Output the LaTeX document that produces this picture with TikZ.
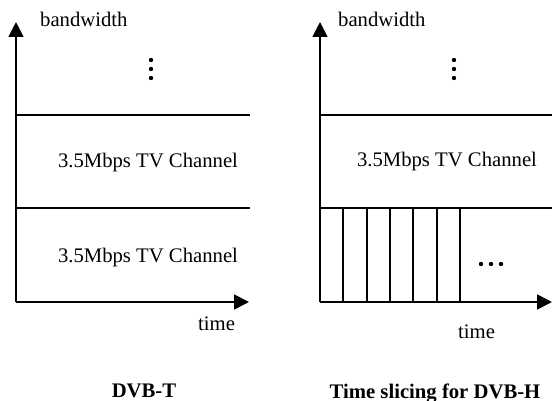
\documentclass[tikz,border=0pt]{standalone}
\usepackage{fontspec}
\setmainfont{Liberation Serif}
\usetikzlibrary{arrows.meta}
\begin{document}
\begin{tikzpicture}[x=1pt,y=-1pt,
  axis/.style={line width=1.8pt,-{Triangle[length=15pt,width=15pt]}},
  band/.style={line width=1.8pt},
  slice/.style={line width=1.8pt},
  lbl/.style={inner sep=0pt,anchor=base,font=\fontsize{20.7}{24}\selectfont},
  lblw/.style={lbl,anchor=base west},
  title/.style={lbl,font=\fontsize{20.7}{24}\selectfont\bfseries},
  dot/.style={fill=black,draw=none,circle,minimum size=4.4pt,inner sep=0pt}]
\useasboundingbox (0,0) rectangle (552,401);

% ---------- DVB-T ----------
\coordinate (lo) at (16,302);
\coordinate (ltop) at (16,22);
\coordinate (lend) at (249,302);
\coordinate (la1) at (16,115);  \coordinate (lb1) at (250,115);
\coordinate (la2) at (16,208);  \coordinate (lb2) at (250,208);
\draw[axis] (lo) -- (ltop);
\draw[axis] (lo) -- (lend);
\draw[band] (la1) -- (lb1);
\draw[band] (la2) -- (lb2);
\node[lblw] (lbw) at (40,26.5) {bandwidth};
\node[lblw] (ltime) at (198,330) {time};
\node[lbl] (lch1) at (148,168) {3.5Mbps TV Channel};
\node[lbl] (lch2) at (148,262) {3.5Mbps TV Channel};
\node[dot] (ld1) at (151,60) {};
\node[dot] (ld2) at (151,69) {};
\node[dot] (ld3) at (151,78) {};
\node[title] (ltitle) at (144,397) {DVB-T};

% ---------- Time slicing for DVB-H ----------
\coordinate (ro) at (320,302);
\coordinate (rtop) at (320,22);
\coordinate (rend) at (552,302);
\coordinate (ra1) at (320,115);  \coordinate (rb1) at (552,115);
\coordinate (ra2) at (320,208);  \coordinate (rb2) at (552,208);
\draw[axis] (ro) -- (rtop);
\draw[axis] (ro) -- (rend);
\draw[band] (ra1) -- (rb1);
\draw[band] (ra2) -- (rb2);
\foreach \k in {1,...,6} {
  \coordinate (st\k) at ({320+23.33*\k},208);
  \coordinate (sb\k) at ({320+23.33*\k},302);
  \draw[slice] (st\k) -- (sb\k);
}
\node[lblw] (rbw) at (338,26.5) {bandwidth};
\node[lblw] (rtime) at (458,338) {time};
\node[lbl] (rch1) at (447,167) {3.5Mbps TV Channel};
\node[dot] (rd1) at (454,60) {};
\node[dot] (rd2) at (454,69) {};
\node[dot] (rd3) at (454,78) {};
\node[dot] (rh1) at (481,264) {};
\node[dot] (rh2) at (491,264) {};
\node[dot] (rh3) at (501,264) {};
\node[title] (rtitle) at (435,398) {Time slicing for DVB-H};
\end{tikzpicture}
\end{document}
